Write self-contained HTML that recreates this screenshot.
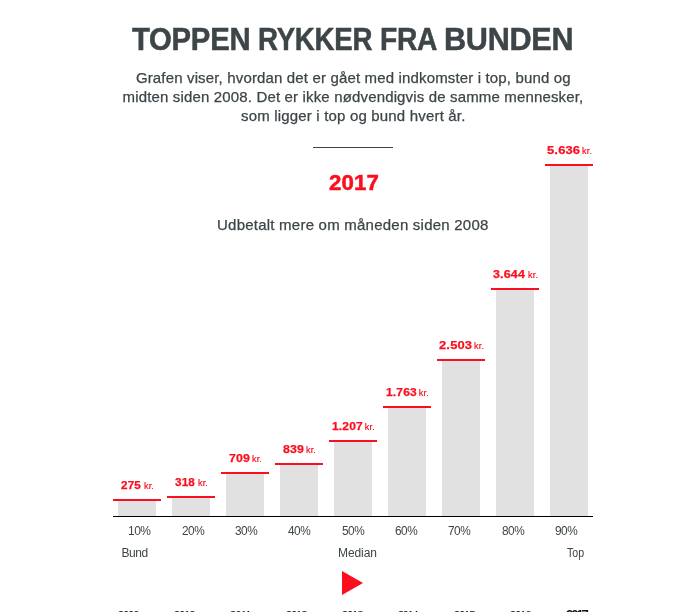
<!DOCTYPE html>
<html lang="da"><head><meta charset="utf-8"><title>Toppen rykker fra bunden</title>
<style>
html,body{margin:0;padding:0;background:#fff;}
body{width:673px;height:612px;overflow:hidden;position:relative;font-family:"Liberation Sans", sans-serif;color:#3d4548;}
h1,p{margin:0;padding:0;font-weight:normal;font-size:0;}
.t{position:absolute;white-space:pre;margin:0;transform-origin:0 0;}
.rule{position:absolute;left:313px;top:147px;width:80px;height:1px;background:#3d4548;}
.rl{position:absolute;width:48px;height:2px;background:#fa0f1e;}
.bar{position:absolute;width:38px;background:#e1e1e1;}
.axis{position:absolute;left:113px;top:516px;width:480px;height:1px;background:#000;}
svg.play{position:absolute;left:342px;top:571px;}
</style></head><body>
<h1><span class="t" style="left:132.00px;top:20px;font-size:31.4px;line-height:39px;letter-spacing:-0.300px;color:#3d4548;font-weight:bold;transform:scaleX(0.9335);-webkit-text-stroke:0.5px #3d4548;">TOPPEN</span> <span class="t" style="left:258.24px;top:20px;font-size:31.4px;line-height:39px;letter-spacing:-0.300px;color:#3d4548;font-weight:bold;transform:scaleX(0.8813);-webkit-text-stroke:0.5px #3d4548;">RYKKER</span> <span class="t" style="left:380.20px;top:20px;font-size:31.4px;line-height:39px;letter-spacing:-0.300px;color:#3d4548;font-weight:bold;transform:scaleX(0.8980);-webkit-text-stroke:0.5px #3d4548;">FRA</span> <span class="t" style="left:444.05px;top:20px;font-size:31.4px;line-height:39px;letter-spacing:-0.300px;color:#3d4548;font-weight:bold;transform:scaleX(0.9759);-webkit-text-stroke:0.5px #3d4548;">BUNDEN</span></h1>
<p><span class="t" style="left:135.90px;top:67px;font-size:15px;line-height:21px;letter-spacing:0.153px;color:#3d4548;-webkit-text-stroke:0.25px #3d4548;">Grafen viser, hvordan det er gået med indkomster i top, bund og</span> <span class="t" style="left:122.60px;top:86px;font-size:15px;line-height:21px;letter-spacing:0.155px;color:#3d4548;-webkit-text-stroke:0.25px #3d4548;">midten siden 2008. Det er ikke nødvendigvis de samme mennesker,</span> <span class="t" style="left:241.00px;top:105px;font-size:15px;line-height:21px;letter-spacing:0.179px;color:#3d4548;-webkit-text-stroke:0.25px #3d4548;">som ligger i top og bund hvert år.</span></p>
<div class="rule"></div>
<div class="t" style="left:328.50px;top:168px;font-size:22px;line-height:29px;letter-spacing:0.100px;color:#fa0f1e;font-weight:bold;transform:scaleX(1.0121);-webkit-text-stroke:0.5px #fa0f1e;">2017</div>
<div class="t" style="left:217.00px;top:214px;font-size:15px;line-height:21px;letter-spacing:0.231px;color:#3d4548;-webkit-text-stroke:0.25px #3d4548;">Udbetalt mere om måneden siden 2008</div>
<div class="chart">
<div class="bar" style="left:118px;top:501px;height:15px"></div>
<div class="rl" style="left:113px;top:499px"></div>
<div class="bar" style="left:172px;top:498px;height:18px"></div>
<div class="rl" style="left:167px;top:496px"></div>
<div class="bar" style="left:226px;top:474px;height:42px"></div>
<div class="rl" style="left:221px;top:472px"></div>
<div class="bar" style="left:280px;top:465px;height:51px"></div>
<div class="rl" style="left:275px;top:463px"></div>
<div class="bar" style="left:334px;top:442px;height:74px"></div>
<div class="rl" style="left:329px;top:440px"></div>
<div class="bar" style="left:388px;top:408px;height:108px"></div>
<div class="rl" style="left:383px;top:406px"></div>
<div class="bar" style="left:442px;top:361px;height:155px"></div>
<div class="rl" style="left:437px;top:359px"></div>
<div class="bar" style="left:496px;top:290px;height:226px"></div>
<div class="rl" style="left:491px;top:288px"></div>
<div class="bar" style="left:550px;top:166px;height:350px"></div>
<div class="rl" style="left:545px;top:164px"></div>
<div class="axis"></div>
<div class="t" style="left:120.65px;top:477px;font-size:11.5px;line-height:16px;letter-spacing:0.150px;color:#fa0f1e;font-weight:bold;transform:scaleX(1.0203);-webkit-text-stroke:0.25px #fa0f1e;">275</div>
<div class="t" style="left:143.95px;top:479px;font-size:9px;line-height:14px;letter-spacing:0.200px;color:#fa0f1e;-webkit-text-stroke:0.2px #fa0f1e;">kr.</div>
<div class="t" style="left:127.99px;top:522px;font-size:12px;line-height:18px;letter-spacing:-0.500px;color:#3d4548;">10%</div>
<div class="t" style="left:174.65px;top:474px;font-size:11.5px;line-height:16px;letter-spacing:0.150px;color:#fa0f1e;font-weight:bold;transform:scaleX(1.0203);-webkit-text-stroke:0.25px #fa0f1e;">318</div>
<div class="t" style="left:197.95px;top:476px;font-size:9px;line-height:14px;letter-spacing:0.200px;color:#fa0f1e;-webkit-text-stroke:0.2px #fa0f1e;">kr.</div>
<div class="t" style="left:181.50px;top:522px;font-size:12px;line-height:18px;letter-spacing:-0.500px;color:#3d4548;transform:scaleX(0.9851);">20%</div>
<div class="t" style="left:228.65px;top:450px;font-size:11.5px;line-height:16px;letter-spacing:0.150px;color:#fa0f1e;font-weight:bold;transform:scaleX(1.0738);-webkit-text-stroke:0.25px #fa0f1e;">709</div>
<div class="t" style="left:251.95px;top:452px;font-size:9px;line-height:14px;letter-spacing:0.200px;color:#fa0f1e;-webkit-text-stroke:0.2px #fa0f1e;">kr.</div>
<div class="t" style="left:234.83px;top:522px;font-size:12px;line-height:18px;letter-spacing:-0.500px;color:#3d4548;transform:scaleX(0.9851);">30%</div>
<div class="t" style="left:282.65px;top:441px;font-size:11.5px;line-height:16px;letter-spacing:0.150px;color:#fa0f1e;font-weight:bold;transform:scaleX(1.0738);-webkit-text-stroke:0.25px #fa0f1e;">839</div>
<div class="t" style="left:305.95px;top:443px;font-size:9px;line-height:14px;letter-spacing:0.200px;color:#fa0f1e;-webkit-text-stroke:0.2px #fa0f1e;">kr.</div>
<div class="t" style="left:288.17px;top:522px;font-size:12px;line-height:18px;letter-spacing:-0.500px;color:#3d4548;transform:scaleX(0.9851);">40%</div>
<div class="t" style="left:331.75px;top:418px;font-size:11.5px;line-height:16px;letter-spacing:0.150px;color:#fa0f1e;font-weight:bold;transform:scaleX(1.0455);-webkit-text-stroke:0.25px #fa0f1e;">1.207</div>
<div class="t" style="left:364.85px;top:420px;font-size:9px;line-height:14px;letter-spacing:0.200px;color:#fa0f1e;-webkit-text-stroke:0.2px #fa0f1e;">kr.</div>
<div class="t" style="left:341.50px;top:522px;font-size:12px;line-height:18px;letter-spacing:-0.500px;color:#3d4548;transform:scaleX(0.9851);">50%</div>
<div class="t" style="left:385.75px;top:384px;font-size:11.5px;line-height:16px;letter-spacing:0.150px;color:#fa0f1e;font-weight:bold;transform:scaleX(1.0455);-webkit-text-stroke:0.25px #fa0f1e;">1.763</div>
<div class="t" style="left:418.85px;top:386px;font-size:9px;line-height:14px;letter-spacing:0.200px;color:#fa0f1e;-webkit-text-stroke:0.2px #fa0f1e;">kr.</div>
<div class="t" style="left:394.83px;top:522px;font-size:12px;line-height:18px;letter-spacing:-0.500px;color:#3d4548;transform:scaleX(0.9851);">60%</div>
<div class="t" style="left:438.60px;top:337px;font-size:11.5px;line-height:16px;letter-spacing:0.150px;color:#fa0f1e;font-weight:bold;transform:scaleX(1.1248);-webkit-text-stroke:0.25px #fa0f1e;">2.503</div>
<div class="t" style="left:474.00px;top:339px;font-size:9px;line-height:14px;letter-spacing:0.200px;color:#fa0f1e;-webkit-text-stroke:0.2px #fa0f1e;">kr.</div>
<div class="t" style="left:448.17px;top:522px;font-size:12px;line-height:18px;letter-spacing:-0.500px;color:#3d4548;transform:scaleX(0.9851);">70%</div>
<div class="t" style="left:492.60px;top:266px;font-size:11.5px;line-height:16px;letter-spacing:0.150px;color:#fa0f1e;font-weight:bold;transform:scaleX(1.0873);-webkit-text-stroke:0.25px #fa0f1e;">3.644</div>
<div class="t" style="left:528.00px;top:268px;font-size:9px;line-height:14px;letter-spacing:0.200px;color:#fa0f1e;-webkit-text-stroke:0.2px #fa0f1e;">kr.</div>
<div class="t" style="left:501.50px;top:522px;font-size:12px;line-height:18px;letter-spacing:-0.500px;color:#3d4548;transform:scaleX(0.9851);">80%</div>
<div class="t" style="left:546.60px;top:142px;font-size:11.5px;line-height:16px;letter-spacing:0.150px;color:#fa0f1e;font-weight:bold;transform:scaleX(1.1248);-webkit-text-stroke:0.25px #fa0f1e;">5.636</div>
<div class="t" style="left:582.00px;top:144px;font-size:9px;line-height:14px;letter-spacing:0.200px;color:#fa0f1e;-webkit-text-stroke:0.2px #fa0f1e;">kr.</div>
<div class="t" style="left:554.83px;top:522px;font-size:12px;line-height:18px;letter-spacing:-0.500px;color:#3d4548;transform:scaleX(0.9851);">90%</div>
<div class="t" style="left:121.60px;top:544px;font-size:12px;line-height:18px;letter-spacing:-0.517px;color:#3d4548;">Bund</div>
<div class="t" style="left:338.00px;top:544px;font-size:12px;line-height:18px;letter-spacing:-0.077px;color:#3d4548;">Median</div>
<div class="t" style="left:566.70px;top:544px;font-size:12px;line-height:18px;letter-spacing:0.000px;color:#3d4548;transform:scaleX(0.8844);">Top</div>
<div class="t" style="left:117.80px;top:607px;font-size:11.5px;line-height:16px;letter-spacing:-1.262px;color:#111;">2009</div>
<div class="t" style="left:173.80px;top:607px;font-size:11.5px;line-height:16px;letter-spacing:-1.262px;color:#111;">2010</div>
<div class="t" style="left:229.80px;top:607px;font-size:11.5px;line-height:16px;letter-spacing:-0.978px;color:#111;">2011</div>
<div class="t" style="left:285.80px;top:607px;font-size:11.5px;line-height:16px;letter-spacing:-1.262px;color:#111;">2012</div>
<div class="t" style="left:341.80px;top:607px;font-size:11.5px;line-height:16px;letter-spacing:-1.262px;color:#111;">2013</div>
<div class="t" style="left:397.80px;top:607px;font-size:11.5px;line-height:16px;letter-spacing:-1.596px;color:#111;">2014</div>
<div class="t" style="left:453.80px;top:607px;font-size:11.5px;line-height:16px;letter-spacing:-1.262px;color:#111;">2015</div>
<div class="t" style="left:509.80px;top:607px;font-size:11.5px;line-height:16px;letter-spacing:-1.262px;color:#111;">2016</div>
<div class="t" style="left:566.00px;top:605px;font-size:13px;line-height:19px;letter-spacing:-2.030px;color:#111;font-weight:bold;">2017</div>
</div>
<svg class="play" width="22" height="24" viewBox="0 0 22 24"><polygon points="0,0 21,12 0,24" fill="#fa0f1e"/></svg>
</body></html>
